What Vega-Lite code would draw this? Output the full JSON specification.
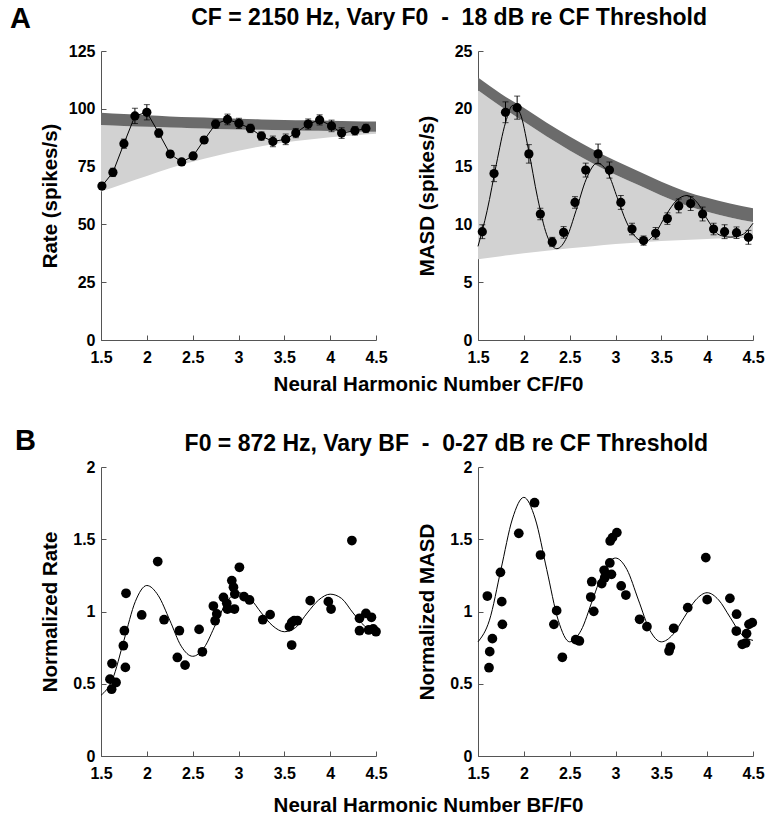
{
  "$schema": "https://vega.github.io/schema/vega-lite/v6.json",
  "background": "white",
  "padding": {"left": 10, "top": 5, "right": 5, "bottom": 0},
  "config": {
    "view": {"stroke": null},
    "font": "Liberation Sans",
    "axis": {
      "grid": false,
      "labelFont": "Liberation Sans", "labelFontWeight": "bold", "labelFontSize": 16, "labelColor": "black",
      "domainColor": "#555555", "tickColor": "#555555", "tickSize": -5, "domainWidth": 1,
      "titleFont": "Liberation Sans", "titleFontWeight": "bold", "titleFontSize": 20.5, "titleColor": "black",
      "labelExpr": "'' + datum.value"
    },
    "axisX": {"labelBaseline": "alphabetic", "labelPadding": 27, "labelFlush": false},
    "axisY": {"labelPadding": 11, "titleX": -41, "titleBaseline": "bottom"},
    "title": {"font": "Liberation Sans", "fontWeight": "bold", "color": "black", "baseline": "alphabetic", "frame": "group"}
  },
  "columns": 2,
  "spacing": {"row": 127, "column": 102},
  "bounds": "flush",
  "datasets": {
    "bandA": [
      {"x": 1.5, "lo": 64.2, "mid": 93.0, "hi": 98.3},
      {"x": 1.75, "lo": 67.6, "mid": 92.6, "hi": 97.7},
      {"x": 2.0, "lo": 70.9, "mid": 92.2, "hi": 97.2},
      {"x": 2.25, "lo": 74.3, "mid": 91.9, "hi": 96.7},
      {"x": 2.5, "lo": 77.1, "mid": 91.6, "hi": 96.3},
      {"x": 2.75, "lo": 79.6, "mid": 91.3, "hi": 96.0},
      {"x": 3.0, "lo": 81.9, "mid": 91.1, "hi": 95.7},
      {"x": 3.25, "lo": 83.8, "mid": 90.9, "hi": 95.4},
      {"x": 3.5, "lo": 85.4, "mid": 90.7, "hi": 95.2},
      {"x": 3.75, "lo": 86.6, "mid": 90.5, "hi": 95.0},
      {"x": 4.0, "lo": 87.7, "mid": 90.4, "hi": 94.8},
      {"x": 4.25, "lo": 88.5, "mid": 90.2, "hi": 94.6},
      {"x": 4.5, "lo": 89.2, "mid": 90.1, "hi": 94.5}
    ],
    "bandB": [
      {"x": 1.5, "lo": 6.98, "mid": 21.6, "hi": 22.7},
      {"x": 1.75, "lo": 7.25, "mid": 20.2, "hi": 21.3},
      {"x": 2.0, "lo": 7.5, "mid": 18.9, "hi": 20.1},
      {"x": 2.25, "lo": 7.73, "mid": 17.6, "hi": 18.8},
      {"x": 2.5, "lo": 7.93, "mid": 16.4, "hi": 17.6},
      {"x": 2.75, "lo": 8.12, "mid": 15.3, "hi": 16.5},
      {"x": 3.0, "lo": 8.3, "mid": 14.3, "hi": 15.5},
      {"x": 3.25, "lo": 8.44, "mid": 13.4, "hi": 14.6},
      {"x": 3.5, "lo": 8.56, "mid": 12.5, "hi": 13.7},
      {"x": 3.75, "lo": 8.66, "mid": 11.7, "hi": 12.9},
      {"x": 4.0, "lo": 8.74, "mid": 11.1, "hi": 12.3},
      {"x": 4.25, "lo": 8.8, "mid": 10.6, "hi": 11.8},
      {"x": 4.5, "lo": 8.85, "mid": 10.2, "hi": 11.4}
    ],
    "rate": [
      {"x": 1.51, "y": 66.6, "lo": 65.1, "hi": 68.1},
      {"x": 1.63, "y": 72.5, "lo": 70.7, "hi": 74.3},
      {"x": 1.75, "y": 84.9, "lo": 82.9, "hi": 86.9},
      {"x": 1.87, "y": 96.9, "lo": 93.6, "hi": 100.2},
      {"x": 2.0, "y": 98.5, "lo": 95.2, "hi": 101.8},
      {"x": 2.13, "y": 89.5, "lo": 87.7, "hi": 91.3},
      {"x": 2.255, "y": 80.4, "lo": 78.9, "hi": 81.9},
      {"x": 2.38, "y": 77.0, "lo": 75.7, "hi": 78.3},
      {"x": 2.505, "y": 79.6, "lo": 78.3, "hi": 80.9},
      {"x": 2.625, "y": 86.5, "lo": 85.0, "hi": 88.0},
      {"x": 2.75, "y": 93.4, "lo": 91.6, "hi": 95.2},
      {"x": 2.88, "y": 95.4, "lo": 93.1, "hi": 97.7},
      {"x": 3.005, "y": 93.7, "lo": 91.5, "hi": 95.9},
      {"x": 3.13, "y": 91.5, "lo": 89.7, "hi": 93.3},
      {"x": 3.25, "y": 88.2, "lo": 86.4, "hi": 90.0},
      {"x": 3.375, "y": 85.9, "lo": 83.6, "hi": 88.2},
      {"x": 3.515, "y": 86.8, "lo": 84.5, "hi": 89.1},
      {"x": 3.625, "y": 89.5, "lo": 87.5, "hi": 91.5},
      {"x": 3.76, "y": 93.4, "lo": 91.2, "hi": 95.6},
      {"x": 3.885, "y": 95.2, "lo": 93.0, "hi": 97.4},
      {"x": 4.015, "y": 92.6, "lo": 90.1, "hi": 95.1},
      {"x": 4.125, "y": 89.5, "lo": 87.2, "hi": 91.8},
      {"x": 4.27, "y": 90.5, "lo": 88.7, "hi": 92.3},
      {"x": 4.39, "y": 91.5, "lo": 89.7, "hi": 93.3}
    ],
    "masd": [
      {"x": 1.547, "y": 9.37, "lo": 8.77, "hi": 9.97},
      {"x": 1.675, "y": 14.4, "lo": 13.7, "hi": 15.1},
      {"x": 1.8, "y": 19.7, "lo": 18.8, "hi": 20.6},
      {"x": 1.927, "y": 20.1, "lo": 19.1, "hi": 21.1},
      {"x": 2.055, "y": 16.1, "lo": 15.3, "hi": 16.9},
      {"x": 2.18, "y": 10.9, "lo": 10.4, "hi": 11.4},
      {"x": 2.31, "y": 8.48, "lo": 8.08, "hi": 8.88},
      {"x": 2.434, "y": 9.31, "lo": 8.81, "hi": 9.81},
      {"x": 2.558, "y": 11.9, "lo": 11.4, "hi": 12.4},
      {"x": 2.675, "y": 14.7, "lo": 14.1, "hi": 15.3},
      {"x": 2.81, "y": 16.1, "lo": 15.25, "hi": 16.95},
      {"x": 2.934, "y": 14.7, "lo": 14.0, "hi": 15.4},
      {"x": 3.058, "y": 11.9, "lo": 11.3, "hi": 12.5},
      {"x": 3.18, "y": 9.6, "lo": 9.1, "hi": 10.1},
      {"x": 3.306, "y": 8.6, "lo": 8.2, "hi": 9.0},
      {"x": 3.438, "y": 9.23, "lo": 8.73, "hi": 9.73},
      {"x": 3.566, "y": 10.5, "lo": 10.0, "hi": 11.0},
      {"x": 3.69, "y": 11.6, "lo": 11.0, "hi": 12.2},
      {"x": 3.82, "y": 11.8, "lo": 11.2, "hi": 12.4},
      {"x": 3.95, "y": 10.9, "lo": 10.3, "hi": 11.5},
      {"x": 4.07, "y": 9.6, "lo": 9.1, "hi": 10.1},
      {"x": 4.19, "y": 9.37, "lo": 8.77, "hi": 9.97},
      {"x": 4.32, "y": 9.28, "lo": 8.78, "hi": 9.78},
      {"x": 4.45, "y": 8.88, "lo": 8.28, "hi": 9.48}
    ],
    "masdFit": [
      {"x": 1.5, "y": 8.1}, {"x": 1.6, "y": 11.2}, {"x": 1.7, "y": 15.2}, {"x": 1.8, "y": 18.8},
      {"x": 1.88, "y": 20.3}, {"x": 1.96, "y": 19.6}, {"x": 2.05, "y": 16.5}, {"x": 2.15, "y": 12.3},
      {"x": 2.25, "y": 9.1}, {"x": 2.36, "y": 7.9}, {"x": 2.47, "y": 8.9}, {"x": 2.57, "y": 11.2},
      {"x": 2.68, "y": 13.9}, {"x": 2.8, "y": 15.3}, {"x": 2.92, "y": 14.4}, {"x": 3.02, "y": 12.3},
      {"x": 3.12, "y": 10.2}, {"x": 3.22, "y": 8.9}, {"x": 3.32, "y": 8.5}, {"x": 3.43, "y": 9.2},
      {"x": 3.55, "y": 10.8}, {"x": 3.67, "y": 12.1}, {"x": 3.78, "y": 12.5}, {"x": 3.9, "y": 11.8},
      {"x": 4.02, "y": 10.2}, {"x": 4.13, "y": 9.1}, {"x": 4.25, "y": 8.9}, {"x": 4.38, "y": 9.1},
      {"x": 4.5, "y": 10.1}
    ],
    "nrate": [
      {"x": 1.598, "y": 0.532}, {"x": 1.616, "y": 0.462}, {"x": 1.664, "y": 0.509}, {"x": 1.62, "y": 0.64},
      {"x": 1.744, "y": 0.763}, {"x": 1.755, "y": 0.867}, {"x": 1.773, "y": 1.126}, {"x": 1.766, "y": 0.613},
      {"x": 1.944, "y": 0.976}, {"x": 2.119, "y": 1.346}, {"x": 2.188, "y": 0.943}, {"x": 2.333, "y": 0.682},
      {"x": 2.355, "y": 0.867}, {"x": 2.417, "y": 0.629}, {"x": 2.57, "y": 0.876}, {"x": 2.606, "y": 0.721},
      {"x": 2.726, "y": 1.038}, {"x": 2.763, "y": 0.983}, {"x": 2.745, "y": 0.936}, {"x": 2.836, "y": 1.098},
      {"x": 2.872, "y": 1.057}, {"x": 2.879, "y": 1.017}, {"x": 2.927, "y": 1.214}, {"x": 2.945, "y": 1.168},
      {"x": 2.96, "y": 1.121}, {"x": 2.956, "y": 1.017}, {"x": 3.01, "y": 1.306}, {"x": 3.06, "y": 1.103},
      {"x": 3.12, "y": 1.08}, {"x": 3.265, "y": 0.943}, {"x": 3.345, "y": 0.978}, {"x": 3.556, "y": 0.895},
      {"x": 3.581, "y": 0.925}, {"x": 3.607, "y": 0.936}, {"x": 3.643, "y": 0.936}, {"x": 3.58, "y": 0.768},
      {"x": 3.782, "y": 1.075}, {"x": 3.98, "y": 1.068}, {"x": 4.01, "y": 1.017}, {"x": 4.237, "y": 1.491},
      {"x": 4.32, "y": 0.953}, {"x": 4.32, "y": 0.867}, {"x": 4.39, "y": 0.987}, {"x": 4.42, "y": 0.872},
      {"x": 4.45, "y": 0.96}, {"x": 4.47, "y": 0.88}, {"x": 4.5, "y": 0.86}
    ],
    "nrateFit": [
      {"x": 1.5, "y": 0.42}, {"x": 1.625, "y": 0.53}, {"x": 1.75, "y": 0.8}, {"x": 1.875, "y": 1.07},
      {"x": 2.0, "y": 1.18}, {"x": 2.125, "y": 1.11}, {"x": 2.25, "y": 0.94}, {"x": 2.375, "y": 0.76},
      {"x": 2.5, "y": 0.69}, {"x": 2.625, "y": 0.75}, {"x": 2.75, "y": 0.91}, {"x": 2.875, "y": 1.07},
      {"x": 3.0, "y": 1.13}, {"x": 3.125, "y": 1.09}, {"x": 3.25, "y": 0.99}, {"x": 3.375, "y": 0.9},
      {"x": 3.5, "y": 0.86}, {"x": 3.625, "y": 0.89}, {"x": 3.75, "y": 0.99}, {"x": 3.875, "y": 1.08},
      {"x": 4.0, "y": 1.12}, {"x": 4.125, "y": 1.09}, {"x": 4.25, "y": 0.99}, {"x": 4.375, "y": 0.9},
      {"x": 4.5, "y": 0.86}
    ],
    "nmasd": [
      {"x": 1.602, "y": 1.107}, {"x": 1.62, "y": 0.611}, {"x": 1.628, "y": 0.722}, {"x": 1.657, "y": 0.812},
      {"x": 1.745, "y": 1.271}, {"x": 1.759, "y": 1.068}, {"x": 1.766, "y": 0.911}, {"x": 1.945, "y": 1.541},
      {"x": 2.117, "y": 1.753}, {"x": 2.182, "y": 1.391}, {"x": 2.328, "y": 0.911}, {"x": 2.358, "y": 1.006},
      {"x": 2.42, "y": 0.683}, {"x": 2.566, "y": 0.805}, {"x": 2.606, "y": 0.796}, {"x": 2.73, "y": 1.1},
      {"x": 2.741, "y": 1.206}, {"x": 2.763, "y": 1.001}, {"x": 2.85, "y": 1.193}, {"x": 2.876, "y": 1.285},
      {"x": 2.883, "y": 1.234}, {"x": 2.938, "y": 1.336}, {"x": 2.956, "y": 1.257}, {"x": 2.942, "y": 1.488},
      {"x": 2.967, "y": 1.511}, {"x": 3.015, "y": 1.546}, {"x": 3.062, "y": 1.177}, {"x": 3.113, "y": 1.114},
      {"x": 3.263, "y": 0.946}, {"x": 3.343, "y": 0.895}, {"x": 3.584, "y": 0.727}, {"x": 3.599, "y": 0.754},
      {"x": 3.635, "y": 0.884}, {"x": 3.788, "y": 1.027}, {"x": 3.985, "y": 1.373}, {"x": 4.0, "y": 1.082},
      {"x": 4.248, "y": 1.091}, {"x": 4.321, "y": 0.981}, {"x": 4.318, "y": 0.865}, {"x": 4.383, "y": 0.773},
      {"x": 4.42, "y": 0.782}, {"x": 4.43, "y": 0.847}, {"x": 4.456, "y": 0.911}, {"x": 4.492, "y": 0.923}
    ],
    "nmasdFit": [
      {"x": 1.5, "y": 0.79}, {"x": 1.625, "y": 0.94}, {"x": 1.75, "y": 1.29}, {"x": 1.875, "y": 1.64},
      {"x": 2.0, "y": 1.79}, {"x": 2.125, "y": 1.64}, {"x": 2.25, "y": 1.29}, {"x": 2.375, "y": 0.94},
      {"x": 2.5, "y": 0.79}, {"x": 2.625, "y": 0.87}, {"x": 2.75, "y": 1.08}, {"x": 2.875, "y": 1.29},
      {"x": 3.0, "y": 1.37}, {"x": 3.125, "y": 1.29}, {"x": 3.25, "y": 1.08}, {"x": 3.375, "y": 0.87},
      {"x": 3.5, "y": 0.79}, {"x": 3.625, "y": 0.84}, {"x": 3.75, "y": 0.96}, {"x": 3.875, "y": 1.08},
      {"x": 4.0, "y": 1.13}, {"x": 4.125, "y": 1.08}, {"x": 4.25, "y": 0.96}, {"x": 4.375, "y": 0.84},
      {"x": 4.5, "y": 0.8}
    ]
  },
  "concat": [
    {
      "width": 275, "height": 289,
      "title": {"text": "A", "anchor": "start", "fontSize": 29, "dx": -91, "offset": 9},
      "encoding": {
        "x": {"field": "x", "type": "quantitative", "scale": {"domain": [1.5, 4.5], "nice": false, "zero": false},
              "axis": {"values": [1.5, 2, 2.5, 3, 3.5, 4, 4.5], "title": "Neural Harmonic Number CF/F0", "titleX": 327, "titleY": 50, "titleBaseline": "alphabetic"}}
      },
      "layer": [
        {"data": {"name": "bandA"}, "mark": {"type": "area", "color": "#d2d2d2", "interpolate": "monotone"},
         "encoding": {"y": {"field": "lo", "type": "quantitative", "title": "Rate (spikes/s)", "scale": {"domain": [0, 125], "nice": false}, "axis": {"values": [0, 25, 50, 75, 100, 125]}}, "y2": {"field": "mid"}}},
        {"data": {"name": "bandA"}, "mark": {"type": "area", "color": "#6b6b6b", "interpolate": "monotone"},
         "encoding": {"y": {"field": "mid", "type": "quantitative", "title": "Rate (spikes/s)"}, "y2": {"field": "hi"}}},
        {"data": {"name": "rate"}, "mark": {"type": "line", "color": "black", "strokeWidth": 1},
         "encoding": {"y": {"field": "y", "type": "quantitative", "title": "Rate (spikes/s)"}}},
        {"data": {"name": "rate"}, "mark": {"type": "errorbar", "color": "black", "ticks": {"size": 6}},
         "encoding": {"y": {"field": "lo", "type": "quantitative", "title": "Rate (spikes/s)"}, "y2": {"field": "hi"}}},
        {"data": {"name": "rate"}, "mark": {"type": "circle", "color": "black", "size": 85, "opacity": 1},
         "encoding": {"y": {"field": "y", "type": "quantitative", "title": "Rate (spikes/s)"}}}
      ]
    },
    {
      "width": 275, "height": 289,
      "title": {"text": "CF = 2150 Hz, Vary F0 \u00a0-\u00a0 18 dB re CF Threshold", "anchor": "end", "fontSize": 23, "dx": -46, "offset": 13},
      "encoding": {
        "x": {"field": "x", "type": "quantitative", "scale": {"domain": [1.5, 4.5], "nice": false, "zero": false},
              "axis": {"values": [1.5, 2, 2.5, 3, 3.5, 4, 4.5], "title": null}}
      },
      "layer": [
        {"data": {"name": "bandB"}, "mark": {"type": "area", "color": "#d2d2d2", "interpolate": "monotone"},
         "encoding": {"y": {"field": "lo", "type": "quantitative", "title": "MASD (spikes/s)", "scale": {"domain": [0, 25], "nice": false}, "axis": {"values": [0, 5, 10, 15, 20, 25]}}, "y2": {"field": "mid"}}},
        {"data": {"name": "bandB"}, "mark": {"type": "area", "color": "#6b6b6b", "interpolate": "monotone"},
         "encoding": {"y": {"field": "mid", "type": "quantitative", "title": "MASD (spikes/s)"}, "y2": {"field": "hi"}}},
        {"data": {"name": "masdFit"}, "mark": {"type": "line", "color": "black", "strokeWidth": 1, "interpolate": "monotone"},
         "encoding": {"y": {"field": "y", "type": "quantitative", "title": "MASD (spikes/s)"}}},
        {"data": {"name": "masd"}, "mark": {"type": "errorbar", "color": "black", "ticks": {"size": 6}},
         "encoding": {"y": {"field": "lo", "type": "quantitative", "title": "MASD (spikes/s)"}, "y2": {"field": "hi"}}},
        {"data": {"name": "masd"}, "mark": {"type": "circle", "color": "black", "size": 85, "opacity": 1},
         "encoding": {"y": {"field": "y", "type": "quantitative", "title": "MASD (spikes/s)"}}}
      ]
    },
    {
      "width": 275, "height": 289,
      "title": {"text": "B", "anchor": "start", "fontSize": 29, "dx": -86, "offset": 3},
      "encoding": {
        "x": {"field": "x", "type": "quantitative", "scale": {"domain": [1.5, 4.5], "nice": false, "zero": false},
              "axis": {"values": [1.5, 2, 2.5, 3, 3.5, 4, 4.5], "title": "Neural Harmonic Number BF/F0", "titleX": 327, "titleY": 55, "titleBaseline": "alphabetic"}}
      },
      "layer": [
        {"data": {"name": "nrateFit"}, "mark": {"type": "line", "color": "black", "strokeWidth": 1, "interpolate": "monotone"},
         "encoding": {"y": {"field": "y", "type": "quantitative", "title": "Normalized Rate", "scale": {"domain": [0, 2], "nice": false}, "axis": {"values": [0, 0.5, 1, 1.5, 2]}}}},
        {"data": {"name": "nrate"}, "mark": {"type": "circle", "color": "black", "size": 95, "opacity": 1},
         "encoding": {"y": {"field": "y", "type": "quantitative", "title": "Normalized Rate"}}}
      ]
    },
    {
      "width": 275, "height": 289,
      "title": {"text": "F0 = 872 Hz, Vary BF \u00a0-\u00a0 0-27 dB re CF Threshold", "anchor": "end", "fontSize": 23, "dx": -45, "offset": 3},
      "encoding": {
        "x": {"field": "x", "type": "quantitative", "scale": {"domain": [1.5, 4.5], "nice": false, "zero": false},
              "axis": {"values": [1.5, 2, 2.5, 3, 3.5, 4, 4.5], "title": null}}
      },
      "layer": [
        {"data": {"name": "nmasdFit"}, "mark": {"type": "line", "color": "black", "strokeWidth": 1, "interpolate": "monotone"},
         "encoding": {"y": {"field": "y", "type": "quantitative", "title": "Normalized MASD", "scale": {"domain": [0, 2], "nice": false}, "axis": {"values": [0, 0.5, 1, 1.5, 2]}}}},
        {"data": {"name": "nmasd"}, "mark": {"type": "circle", "color": "black", "size": 95, "opacity": 1},
         "encoding": {"y": {"field": "y", "type": "quantitative", "title": "Normalized MASD"}}}
      ]
    }
  ]
}
